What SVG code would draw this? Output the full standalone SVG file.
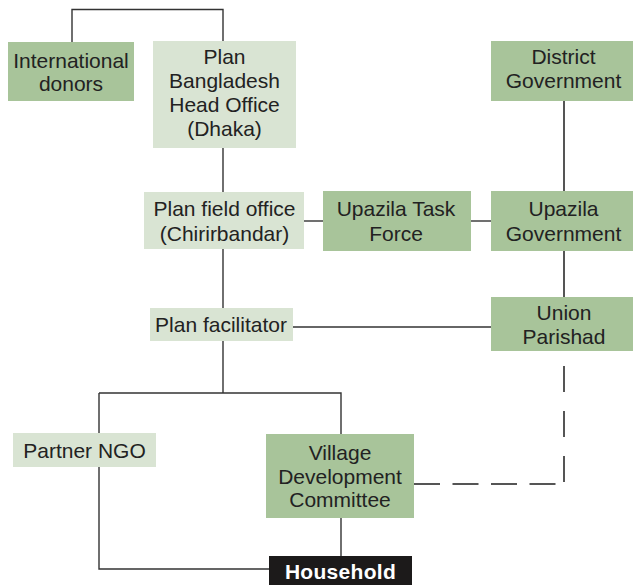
<svg xmlns="http://www.w3.org/2000/svg" width="633" height="585" viewBox="0 0 633 585">
<style>
.dk{fill:#a8c49a}
.lt{fill:#d9e4d3}
.t{font-family:"Liberation Sans",Arial,sans-serif;font-size:21px;fill:#222;text-anchor:middle}
.hh{font-family:"Liberation Sans",Arial,sans-serif;font-size:21px;font-weight:bold;fill:#fff;text-anchor:middle;letter-spacing:0.3px}
.c{fill:none;stroke:#333;stroke-width:1.4}
.c2{fill:none;stroke:#555;stroke-width:2}
.d{fill:none;stroke:#555;stroke-width:2}
</style>
<rect width="633" height="585" fill="#fff"/>
<g id="connectors">
<path class="c" d="M72,42 V9.5 H223 V41"/>
<path class="c" d="M223,148 V192"/>
<path class="c" d="M223,249 V308"/>
<path class="c" d="M304,221 H323"/>
<path class="c" d="M471,221 H491"/>
<path class="c2" d="M564,101 V191"/>
<path class="c2" d="M564,251 V297"/>
<path class="c" d="M293,327 H491"/>
<path class="c" d="M223,341 V393"/>
<path class="c" d="M99,393 H341 V434"/>
<path class="c" d="M99,393 V569 H270"/>
<path class="c" d="M341,518 V556"/>
<path class="d" d="M564,366 V484" stroke-dasharray="26 19"/>
<path class="d" d="M414,484 H564" stroke-dasharray="26 12.5"/>
</g>
<g id="international-donors">
<rect class="dk" x="8" y="42" width="126" height="59"/>
<text class="t" x="71" y="67.5">International</text>
<text class="t" x="71" y="90.5">donors</text>
</g>
<g id="plan-head-office">
<rect class="lt" x="153" y="41" width="143" height="107"/>
<text class="t" x="224.5" y="64">Plan</text>
<text class="t" x="224.5" y="88">Bangladesh</text>
<text class="t" x="224.5" y="112">Head Office</text>
<text class="t" x="224.5" y="136">(Dhaka)</text>
</g>
<g id="district-government">
<rect class="dk" x="491" y="41" width="142" height="60"/>
<text class="t" x="563.5" y="64">District</text>
<text class="t" x="563.5" y="88">Government</text>
</g>
<g id="plan-field-office">
<rect class="lt" x="144" y="192" width="160" height="57"/>
<text class="t" x="224.5" y="215.5">Plan field office</text>
<text class="t" x="224.5" y="240.5">(Chirirbandar)</text>
</g>
<g id="upazila-task-force">
<rect class="dk" x="323" y="191" width="148" height="60"/>
<text class="t" x="396" y="216">Upazila Task</text>
<text class="t" x="396" y="240.5">Force</text>
</g>
<g id="upazila-government">
<rect class="dk" x="491" y="191" width="142" height="60"/>
<text class="t" x="563.5" y="216">Upazila</text>
<text class="t" x="563.5" y="240.5">Government</text>
</g>
<g id="plan-facilitator">
<rect class="lt" x="150" y="308" width="143" height="33"/>
<text class="t" x="221" y="331.5">Plan facilitator</text>
</g>
<g id="union-parishad">
<rect class="dk" x="491" y="297" width="142" height="54"/>
<text class="t" x="564" y="319.5">Union</text>
<text class="t" x="564" y="343.5">Parishad</text>
</g>
<g id="partner-ngo">
<rect class="lt" x="13" y="433" width="143" height="34"/>
<text class="t" x="84.5" y="457.5">Partner NGO</text>
</g>
<g id="village-development-committee">
<rect class="dk" x="266" y="434" width="148" height="84"/>
<text class="t" x="340" y="459.5">Village</text>
<text class="t" x="340" y="483.5">Development</text>
<text class="t" x="340" y="507">Committee</text>
</g>
<g id="household">
<rect x="269" y="556" width="143" height="29" fill="#1c1a1a"/>
<text class="hh" x="340.5" y="578.5">Household</text>
</g>
</svg>
